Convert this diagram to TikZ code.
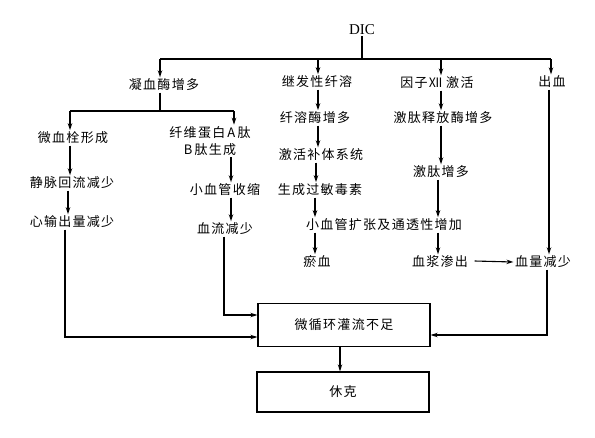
\documentclass[tikz,border=0pt]{standalone}
\usepackage{fontspec}
\setmainfont{Liberation Serif}
\newfontfamily\cjk[LetterSpace=10]{Noto Sans CJK SC}
\usetikzlibrary{arrows.meta}
\begin{document}
\begin{tikzpicture}[x=1pt,y=-1pt,
  lbl/.style={font=\cjk\fontsize{13}{17}\selectfont, inner sep=1.5pt, align=center},
  boxn/.style={draw, line width=1.3pt, minimum width=172pt, minimum height=43pt, font=\cjk\fontsize{13}{16}\selectfont},
  ln/.style={line width=1.1pt},
  arr/.style={line width=1.1pt, -{Stealth[length=7pt,width=4.5pt]}}]
\useasboundingbox (0,0) rectangle (595,437);
\fill[white] (0,0) rectangle (595,437);
% nodes
\node[font=\fontsize{15}{17}\selectfont, inner sep=1pt] (dic) at (362,30) {DIC};
\node[lbl] (n1) at (164,85) {凝血酶增多};
\node[lbl] (n2) at (317,82) {继发性纤溶};
\node[lbl] (n3) at (437,83) {因子Ⅻ 激活};
\node[lbl] (n4) at (552,82) {出血};
\node[lbl] (a1) at (73,138) {微血栓形成};
\node[lbl] (a2) at (210,141) {纤维蛋白\,A\,肽\\B\,肽生成};
\node[lbl] (a3) at (72,183) {静脉回流减少};
\node[lbl] (a4) at (72,222) {心输出量减少};
\node[lbl] (b1) at (225,190) {小血管收缩};
\node[lbl] (b2) at (225,229) {血流减少};
\node[lbl] (c1) at (315,118) {纤溶酶增多};
\node[lbl] (c2) at (321,155) {激活补体系统};
\node[lbl] (c3) at (320,190) {生成过敏毒素};
\node[lbl] (c4) at (384,225) {小血管扩张及通透性增加};
\node[lbl] (c5) at (317,262) {瘀血};
\node[lbl] (d1) at (443,118) {激肽释放酶增多};
\node[lbl] (d2) at (441,172) {激肽增多};
\node[lbl] (d3) at (440,262) {血浆渗出};
\node[lbl] (e1) at (543,262) {血量减少};
\node[boxn] (m) at (344,325) {微循环灌流不足};
\node[boxn, minimum height=40pt] (s) at (343,392) {休克};
% top bar
\coordinate (dj) at (362,59);
\coordinate (t1) at (160,59);
\coordinate (t2) at (318,59);
\coordinate (t3) at (441,59);
\coordinate (t4) at (551,59);
\draw[ln] (dic.south) -- (dj);
\draw[ln] (t1) -- (t4);
\draw[arr] (t1) -- (t1 |- n1.north);
\draw[arr] (t2) -- (t2 |- n2.north);
\draw[arr] (t3) -- (t3 |- n3.north);
\draw[arr] (t4) -- (t4 |- n4.north);
% left branch
\coordinate (lb) at (160,111);
\coordinate (l1) at (70,111);
\coordinate (l2) at (234,111);
\draw[ln] (lb |- n1.south) -- (lb);
\draw[ln] (l1) -- (l2);
\draw[arr] (l1) -- (l1 |- a1.north);
\draw[arr] (l2) -- (l2 |- a2.north);
\draw[arr] (70,0 |- a1.south) -- (70,0 |- a3.north);
\draw[arr] (68,0 |- a3.south) -- (68,0 |- a4.north);
\draw[arr] (231,0 |- a2.south) -- (231,0 |- b1.north);
\draw[arr] (231,0 |- b1.south) -- (231,0 |- b2.north);
\coordinate (k1) at (65,337);
\coordinate (k2) at (224,315);
\draw[arr] (k1 |- a4.south) -- (k1) -- (k1 -| m.west);
\draw[arr] (k2 |- b2.south) -- (k2) -- (k2 -| m.west);
% middle
\draw[arr] (318,0 |- n2.south) -- (318,0 |- c1.north);
\draw[arr] (318,0 |- c1.south) -- (318,0 |- c2.north);
\draw[arr] (316,0 |- c2.south) -- (316,0 |- c3.north);
\draw[arr] (315,0 |- c3.south) -- (315,0 |- c4.north);
\draw[arr] (315,0 |- c4.south) -- (315,0 |- c5.north);
\draw[arr] (441,0 |- n3.south) -- (441,0 |- d1.north);
\draw[arr] (441,0 |- d1.south) -- (441,0 |- d2.north);
\draw[arr] (438,0 |- d2.south) -- (438,0 |- c4.north);
\draw[arr] (438,0 |- c4.south) -- (438,0 |- d3.north);
\draw[arr] (d3.east) ++(5,-1) -- (e1.west);
% right
\draw[arr] (549,0 |- n4.south) -- (549,0 |- e1.north);
\coordinate (k3) at (547,335);
\draw[arr] (k3 |- e1.south) -- (k3) -- (k3 -| m.east);
\draw[arr] (340,0 |- m.south) -- (340,0 |- s.north);
\end{tikzpicture}
\end{document}
